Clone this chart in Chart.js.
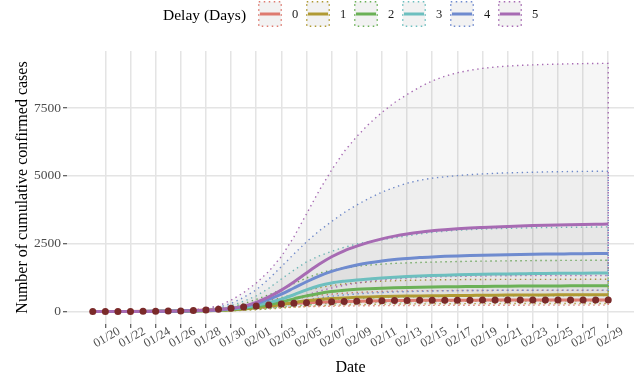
<!DOCTYPE html>
<html>
<head>
<meta charset="utf-8">
<script src="https://cdn.jsdelivr.net/npm/chart.js@4"></script>
<style>
  body { margin: 0; background: #fff; }
  #wrap { position: relative; width: 642px; height: 377px; font-family: 'Liberation Serif', serif; }
  #legend div, #legend svg { position: absolute; }
  .ttl { top: 0; height: 29px; line-height: 29px; font-size: 15.5px; color: #000; }
  .lab { top: 0; height: 29px; line-height: 29px; font-size: 12.5px; color: #1a1a1a; }
</style>
</head>
<body>
<div id="wrap">
  <canvas id="chart" width="642" height="377"></canvas>
  <div id="legend"></div>
</div>
<script>
// dates, 01/19 .. 02/29
const dates = ['01/19','01/20','01/21','01/22','01/23','01/24','01/25','01/26','01/27','01/28','01/29','01/30','01/31',
  '02/01','02/02','02/03','02/04','02/05','02/06','02/07','02/08','02/09','02/10','02/11','02/12','02/13','02/14','02/15',
  '02/16','02/17','02/18','02/19','02/20','02/21','02/22','02/23','02/24','02/25','02/26','02/27','02/28','02/29'];

// observed cumulative cases (points)
const observed = [0,2,4,6,9,13,18,26,38,57,85,120,165,
  210,245,280,305,330,345,360,372,382,392,400,405,410,414,417,419,421,422,423,424,425,426,427,427,428,428,429,429,430];

// estimated curves per delay
const est0 = [0,2,4,6,9,13,18,26,38,56,82,117,160,
  203,243,277,304,327,345,360,372,383,392,399,405,410,414,417,419,421,422,423,424,425,426,427,427,428,428,429,429,430];
const est1 = [0,1,2,3,5,8,11,15,21,30,42,62,95,
  140,195,255,335,400,445,478,505,525,540,552,562,570,577,583,588,593,597,600,604,607,609,612,614,616,617,618,619,620];
const est2 = [0,1,2,4,6,9,13,18,25,35,50,75,120,
  180,260,360,470,580,670,740,788,822,845,862,876,888,898,906,913,919,924,929,933,937,940,943,945,947,948,949,950,950];
const est3 = [0,1,3,5,7,11,16,22,30,42,60,95,150,
  230,330,460,620,800,950,1055,1120,1168,1205,1240,1268,1292,1312,1328,1342,1354,1364,1373,1381,1388,1394,1400,1405,1409,1413,1416,1418,1420];
const est4 = [0,1,3,5,8,12,17,24,33,46,68,110,190,
  300,450,640,870,1100,1310,1480,1610,1715,1800,1865,1915,1955,1990,2015,2035,2052,2066,2078,2088,2097,2105,2112,2118,2123,2128,2132,2136,2140];
const est5 = [0,1,3,5,8,12,17,24,34,48,70,110,200,
  340,540,790,1090,1420,1740,2020,2240,2410,2560,2680,2780,2860,2925,2975,3015,3050,3078,3100,3120,3138,3155,3170,3183,3194,3203,3211,3218,3224];

// lower bounds
const lo0 = [0,1,2,3,5,7,10,14,21,31,46,65,90,
  115,135,153,167,180,190,198,205,210,215,219,222,225,227,229,230,232,233,234,235,236,236,237,237,238,238,239,239,240];
const lo1 = [0,1,1,2,3,4,6,8,11,16,22,32,48,
  70,98,128,165,195,218,235,248,258,266,272,277,281,284,287,289,291,293,294,295,296,297,298,298,299,299,300,300,300];
const lo2 = [0,1,1,2,3,5,7,9,13,18,25,37,58,
  85,120,160,210,250,282,305,322,335,345,353,359,364,368,372,375,378,381,383,385,387,389,391,393,395,396,398,399,400];
const lo3 = [0,1,2,3,4,5,8,11,15,21,30,45,70,
  105,150,205,270,330,385,425,455,480,500,515,527,537,545,552,558,563,567,571,574,577,580,582,584,586,587,588,589,590];
const lo4 = [0,1,2,3,4,6,8,12,16,23,33,50,80,
  125,185,260,345,430,505,565,612,650,680,703,722,737,749,758,766,772,777,781,784,786,788,789,790,790,790,790,790,790];
const lo5 = [0,1,2,3,5,6,9,13,18,26,38,58,95,
  150,230,340,470,610,750,870,970,1050,1115,1165,1205,1235,1258,1275,1288,1298,1306,1312,1317,1321,1324,1326,1327,1328,1329,1330,1330,1330];

// upper bounds
const hi0 = [0,1,3,5,7,10,15,22,33,50,75,110,160,
  230,300,380,460,540,600,645,680,705,725,740,750,758,764,769,773,776,778,779,780,781,781,782,782,782,783,783,783,783];
const hi1 = [0,1,3,5,7,11,16,24,35,55,85,130,210,
  300,400,510,640,780,880,960,1020,1060,1095,1120,1138,1150,1160,1168,1174,1178,1181,1183,1185,1186,1187,1188,1188,1189,1189,1190,1190,1190];
const hi2 = [0,2,3,5,8,12,18,27,40,65,100,170,290,
  450,620,810,1030,1240,1410,1530,1610,1670,1715,1750,1775,1795,1810,1823,1834,1844,1852,1859,1865,1870,1875,1879,1882,1885,1887,1889,1890,1890];
const hi3 = [0,2,4,6,9,14,20,30,45,75,120,220,380,
  580,860,1200,1530,1830,2050,2220,2370,2490,2580,2650,2720,2790,2860,2920,2960,2995,3020,3040,3055,3068,3078,3087,3095,3101,3107,3112,3116,3120];
const hi4 = [0,2,4,6,10,15,22,35,55,95,160,300,520,
  800,1200,1660,2120,2570,2970,3320,3650,3930,4180,4400,4580,4730,4840,4915,4965,5010,5045,5073,5095,5110,5123,5135,5145,5153,5160,5165,5169,5172];
const hi5 = [0,2,4,7,11,16,24,40,70,120,210,420,700,
  1050,1480,2030,2750,3600,4450,5220,5900,6450,6930,7340,7700,8000,8270,8500,8670,8800,8890,8960,9010,9045,9070,9090,9105,9118,9128,9136,9141,9145];

const delays = ['0', '1', '2', '3', '4', '5'];
const colors = ['#de7b70', '#b09a34', '#6bb157', '#6dbfbf', '#6f8bcf', '#a76bb3'];
const yTicks = [0, 2500, 5000, 7500];

const est = [est0, est1, est2, est3, est4, est5];
const lo = [lo0, lo1, lo2, lo3, lo4, lo5];
const hi = [hi0, hi1, hi2, hi3, hi4, hi5];

const font = 'Liberation Serif';
const pts = arr => arr.map((y, i) => ({ x: i, y: y }));

const datasets = [];
// confidence bands: upper edge, then lower edge backwards, filled as one shape
delays.forEach((d, k) => {
  datasets.push({
    label: 'band ' + d,
    data: pts(hi[k]).concat(pts(lo[k]).reverse()),
    borderColor: colors[k],
    borderWidth: 1.4,
    borderDash: [1.4, 3.6],
    backgroundColor: 'rgba(120,120,120,0.065)',
    fill: 'shape',
    pointRadius: 0,
    tension: 0,
    order: 20 - k
  });
});
delays.forEach((d, k) => {
  datasets.push({
    label: d,
    data: pts(est[k]),
    borderColor: colors[k],
    borderWidth: 3,
    pointRadius: 0,
    fill: false,
    cubicInterpolationMode: 'monotone',
    order: 10 - k
  });
});
datasets.push({
  label: 'observed',
  data: pts(observed),
  showLine: false,
  pointRadius: 3.5,
  pointBackgroundColor: '#7a2a2a',
  pointBorderWidth: 0,
  order: 0
});

new Chart(document.getElementById('chart'), {
  type: 'line',
  data: { datasets: datasets },
  options: {
    responsive: false,
    animation: false,
    devicePixelRatio: 1,
    layout: { padding: { top: 51, right: 8, left: 0, bottom: 0 } },
    plugins: { legend: { display: false }, tooltip: { enabled: false } },
    scales: {
      x: {
        type: 'linear',
        min: -2.05,
        max: 43.05,
        bounds: 'data',
        afterBuildTicks: s => { s.ticks = dates.map((_, i) => ({ value: i })).filter(t => t.value % 2 === 1); },
        afterFit: s => { s.height = 53; },
        grid: { color: '#e4e4e4', lineWidth: 1.5, tickColor: '#333', tickLength: 4, tickWidth: 1 },
        border: { display: false },
        ticks: {
          callback: v => dates[v],
          autoSkip: false,
          minRotation: 30,
          maxRotation: 30,
          labelOffset: 14,
          padding: -4,
          color: '#4d4d4d',
          font: { family: font, size: 12.5 }
        },
        title: { display: true, text: 'Date', color: '#000', font: { family: font, size: 16 }, padding: { top: 0, bottom: 0 } }
      },
      y: {
        min: -457,
        max: 9600,
        bounds: 'data',
        afterBuildTicks: s => { s.ticks = yTicks.map(v => ({ value: v })); },
        afterFit: s => { s.width = 67; },
        grid: { color: '#e4e4e4', lineWidth: 1.5, tickColor: '#333', tickLength: 4, tickWidth: 1 },
        border: { display: false },
        ticks: { callback: v => String(v), padding: 2, color: '#4d4d4d', font: { family: font, size: 13.5 } },
        title: {
          display: true, text: 'Number of cumulative confirmed cases', color: '#000',
          font: { family: font, size: 16 }, padding: { top: 13, bottom: 0 }
        }
      }
    }
  }
});

// legend: title + dotted keys
const legend = document.getElementById('legend');
let html = '<div class="ttl" style="left:163px">Delay (Days)</div>';
delays.forEach((d, k) => {
  const left = 258 + 48 * k;
  html += '<svg width="24" height="26" style="left:' + left + 'px;top:1px">' +
    '<rect x="0.75" y="0.75" width="22.5" height="24.5" fill="#f2f2f2" stroke="' + colors[k] +
    '" stroke-width="1.5" stroke-dasharray="1.5 3.5"/>' +
    '<line x1="2" x2="22" y1="13" y2="13" stroke="' + colors[k] + '" stroke-width="3"/></svg>';
  html += '<div class="lab" style="left:' + (left + 34) + 'px">' + d + '</div>';
});
legend.innerHTML = html;
</script>
</body>
</html>
